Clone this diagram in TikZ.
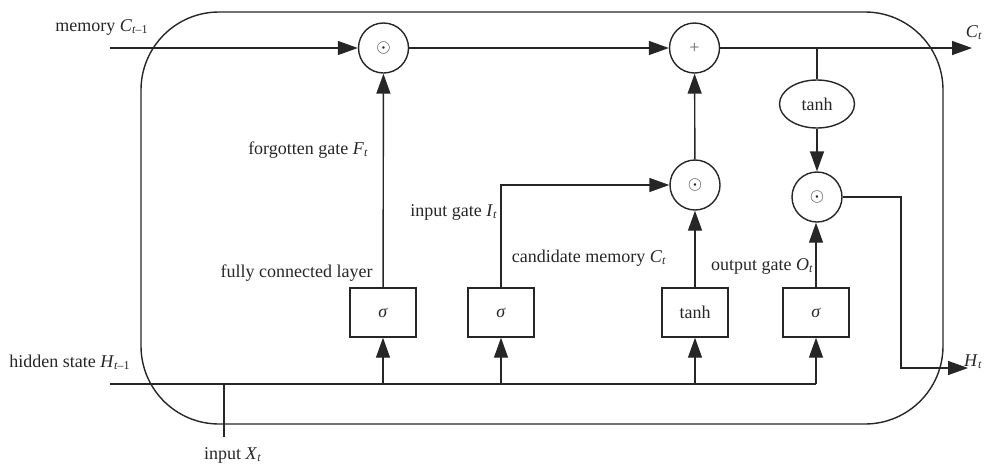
\documentclass[tikz,border=0pt]{standalone}
\usepackage{fontspec}
\setmainfont{Liberation Serif}
\usetikzlibrary{arrows.meta,shapes.geometric}
\begin{document}
\begin{tikzpicture}[x=0.5pt,y=-0.5pt,
  every node/.style={font=\fontsize{9}{11}\selectfont, text=black!85},
  ln/.style={draw=black!85, line width=0.7pt},
  arr/.style={ln, -{Triangle[length=10pt,width=7pt]}},
  op/.style={ln, circle, minimum size=25pt, inner sep=0pt},
  gatebox/.style={ln, rectangle, minimum width=33pt, minimum height=24.5pt, inner sep=0pt},
  ell/.style={ln, ellipse, minimum width=37.5pt, minimum height=24pt, inner sep=0pt},
  lbl/.style={inner sep=0pt}
]
\useasboundingbox (0,0) rectangle (985,467);
% cell outline
\draw[ln, rounded corners=39pt] (141,12) rectangle (943,424);

% operators
\node[op] (m1) at (383.5,48) {$\odot$};
\node[op] (add) at (694.5,48) {\textcolor{black!60}{+}};
\node[op] (m2) at (695,185) {$\odot$};
\node[op] (m3) at (817,197) {$\odot$};
\node[ell] (th) at (817,104) {tanh};

% gate boxes
\node[gatebox] (sf) at (383,312.5) {\textit{σ}};
\node[gatebox] (si) at (501,312.5) {\textit{σ}};
\node[gatebox] (tc) at (695,312.5) {tanh};
\node[gatebox] (so) at (816,312.5) {\textit{σ}};

% coordinates
\coordinate (cin) at (110,48);
\coordinate (cout) at (972,48);
\coordinate (jt) at (817,48);
\coordinate (hin) at (110,384);
\coordinate (hend) at (816,384);
\coordinate (xj) at (224,384);
\coordinate (xin) at (224,437);
\coordinate (b1) at (383,384);
\coordinate (b2) at (501,384);
\coordinate (b3) at (695,384);
\coordinate (ic) at (501,185);
\coordinate (o1) at (901,197);
\coordinate (o2) at (901,368);
\coordinate (hout) at (968,368);

% memory line
\draw[arr] (cin) -- (m1);
\draw[arr] (m1) -- (add);
\draw[arr] (add) -- (cout);
\draw[ln] (jt) -- (th);
\draw[arr] (th) -- (m3);

% gates up
\draw[arr] (sf) -- (m1);
\draw[arr] (si.north) -- (ic) -- (m2);
\draw[arr] (tc) -- (m2);
\draw[arr] (m2) -- (add);
\draw[arr] (so.north) -- (so.north |- m3.south);

% output
\draw[arr] (m3) -- (o1) -- (o2) -- (hout);

% hidden line
\draw[ln] (hin) -- (hend);
\draw[arr] (b1) -- (sf);
\draw[arr] (b2) -- (si);
\draw[arr] (b3) -- (tc);
\draw[arr] (hend) -- (so);
\draw[ln] (xj) -- (xin);

% labels
\node[lbl] (lmem) at (102,27) {memory \textit{C}\textsubscript{\textit{t}–1}};
\node[lbl, anchor=east] (lct) at (983,33) {\textit{C}\textsubscript{\textit{t}}};
\node[lbl, anchor=east] (lfg) at (369,150) {forgotten gate \textit{F}\textsubscript{\textit{t}}};
\node[lbl, anchor=east] (lfc) at (373,273) {fully connected layer};
\node[lbl, anchor=east] (lig) at (498,212) {input gate \textit{I}\textsubscript{\textit{t}}};
\node[lbl, anchor=east] (lcm) at (667,258) {candidate memory \textit{C}\textsubscript{\textit{t}}};
\node[lbl, anchor=east] (log) at (814,266) {output gate \textit{O}\textsubscript{\textit{t}}};
\node[lbl] (lhs) at (70,362) {hidden state \textit{H}\textsubscript{\textit{t}–1}};
\node[lbl, anchor=east] (lht) at (983,362) {\textit{H}\textsubscript{\textit{t}}};
\node[lbl] (lx) at (233,455) {input \textit{X}\textsubscript{\textit{t}}};
\end{tikzpicture}
\end{document}
